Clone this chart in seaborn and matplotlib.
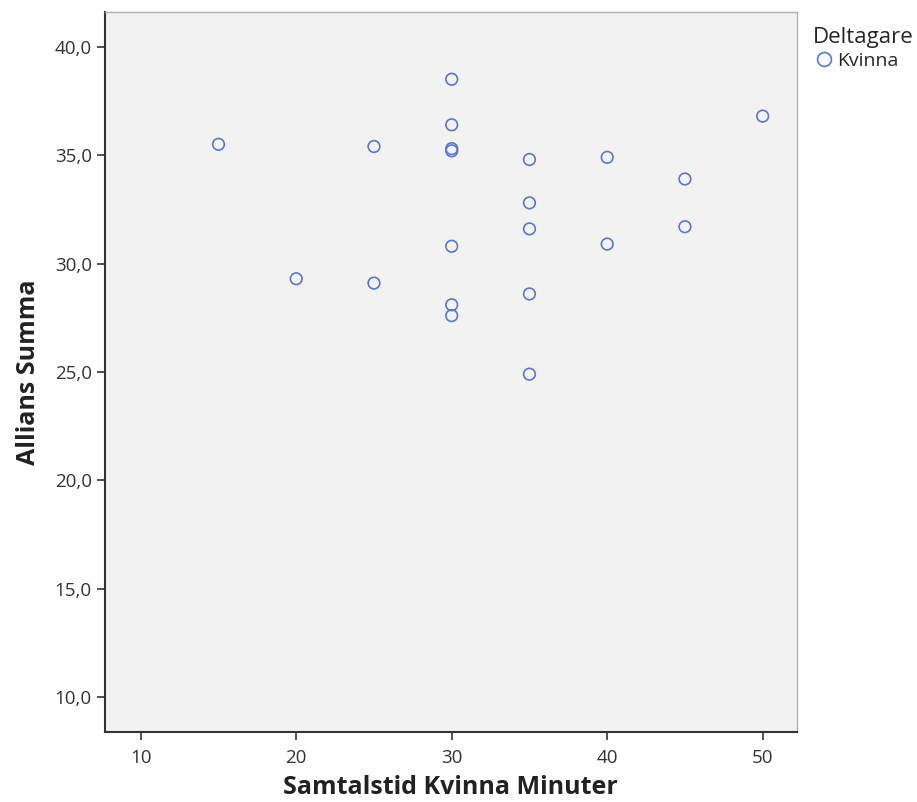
import pandas as pd
import matplotlib.pyplot as plt
import seaborn as sns
from matplotlib.ticker import FuncFormatter

# Samtalstid (min) och Allians summa, Kvinna
minuter = [15, 20, 25, 25, 30, 30, 30, 30, 30, 30, 30, 35, 35, 35, 35, 35, 40, 40, 45, 45, 50]
allians = [35.5, 29.3, 35.4, 29.1, 38.5, 36.4, 35.3, 35.2, 30.8, 28.1, 27.6,
           34.8, 32.8, 31.6, 28.6, 24.9, 34.9, 30.9, 33.9, 31.7, 36.8]
deltagare = ["Kvinna"] * len(minuter)

x_ticks = [10, 20, 30, 40, 50]
y_ticks = [10, 15, 20, 25, 30, 35, 40]

df = pd.DataFrame({"Samtalstid Kvinna Minuter": minuter,
                   "Allians Summa": allians,
                   "Deltagare": deltagare})

sns.set_style("white")
plt.rcParams["font.family"] = ["Open Sans", "DejaVu Sans"]

fig = plt.figure(figsize=(9.17, 8.02), dpi=100)
ax = fig.add_axes([0.1145, 0.0873, 0.7545, 0.8977])
ax.set_facecolor("#f2f2f2")

sns.scatterplot(data=df, x="Samtalstid Kvinna Minuter", y="Allians Summa",
                hue="Deltagare", palette={"Kvinna": "#5a78c8"},
                marker="o", s=70, linewidth=1.2, ax=ax, legend=False)
# hollow circles
for coll in ax.collections:
    coll.set_facecolor("none")
    coll.set_edgecolor("#5a78c8")

ax.set_xlim(7.7, 52.2)
ax.set_ylim(8.4, 41.6)
ax.set_xticks(x_ticks)
ax.set_yticks(y_ticks)
ax.yaxis.set_major_formatter(FuncFormatter(lambda v, p: f"{v:.1f}".replace(".", ",")))

ax.tick_params(axis="both", direction="out", length=6, width=1.2, color="#333333",
               labelsize=13.5, labelcolor="#333333", bottom=True, left=True)
ax.tick_params(axis="x", pad=6)
for side in ["left", "bottom"]:
    ax.spines[side].set_color("#333333")
    ax.spines[side].set_linewidth(1.5)
for side in ["top", "right"]:
    ax.spines[side].set_color("#b0b0b0")
    ax.spines[side].set_linewidth(1.0)

ax.set_xlabel("Samtalstid Kvinna Minuter", fontsize=18, fontweight="bold",
              color="#222222", labelpad=6)
ax.set_ylabel("Allians Summa", fontsize=18, fontweight="bold",
              color="#222222", labelpad=10)

handle = plt.Line2D([], [], marker="o", linestyle="none", markersize=10,
                    markerfacecolor="none", markeredgecolor="#5a78c8", markeredgewidth=1.2)
leg = ax.legend([handle], ["Kvinna"], title="Deltagare", loc="upper left",
                bbox_to_anchor=(1.004, 0.998), frameon=False, fontsize=14,
                title_fontsize=16, handletextpad=0.15, borderaxespad=0.3,
                handlelength=1.1, labelspacing=0.2)
leg._legend_box.align = "left"

plt.savefig("out.png", dpi=100)
plt.close()
